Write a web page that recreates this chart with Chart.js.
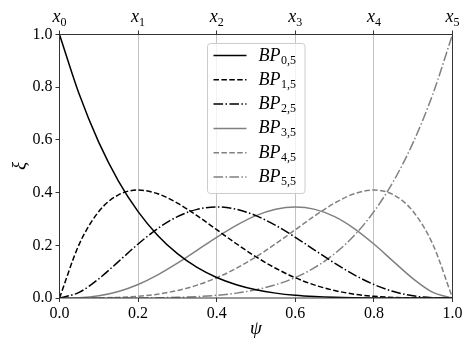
<!DOCTYPE html>
<html>
<head>
<meta charset="utf-8">
<script src="https://cdn.jsdelivr.net/npm/chart.js@4.4.1/dist/chart.umd.min.js"></script>
<style>
html,body{margin:0;padding:0;background:#fff;}
canvas{display:block;}
</style>
</head>
<body>
<canvas id="c" width="474" height="355"></canvas>
<script>
const psi = [0,0.05,0.1,0.15,0.2,0.25,0.3,0.35,0.4,0.45,0.5,0.55,0.6,0.65,0.7,0.75,0.8,0.85,0.9,0.95,1];
const bp05 = [1,0.7738,0.5905,0.4437,0.3277,0.2373,0.1681,0.1160,0.0778,0.0503,0.0313,0.0185,0.0102,0.0053,0.0024,0.0010,0.0003,0.0001,0,0,0];
const bp15 = [0,0.2036,0.3281,0.3915,0.4096,0.3955,0.3602,0.3124,0.2592,0.2059,0.1563,0.1128,0.0768,0.0488,0.0284,0.0146,0.0064,0.0022,0.0005,0,0];
const bp25 = [0,0.0214,0.0729,0.1382,0.2048,0.2637,0.3087,0.3364,0.3456,0.3369,0.3125,0.2757,0.2304,0.1811,0.1323,0.0879,0.0512,0.0244,0.0081,0.0011,0];
const bp35 = [0,0.0011,0.0081,0.0244,0.0512,0.0879,0.1323,0.1811,0.2304,0.2757,0.3125,0.3369,0.3456,0.3364,0.3087,0.2637,0.2048,0.1382,0.0729,0.0214,0];
const bp45 = [0,0,0.0005,0.0022,0.0064,0.0146,0.0284,0.0488,0.0768,0.1128,0.1563,0.2059,0.2592,0.3124,0.3602,0.3955,0.4096,0.3915,0.3281,0.2036,0];
const bp55 = [0,0,0,0.0001,0.0003,0.0010,0.0024,0.0053,0.0102,0.0185,0.0313,0.0503,0.0778,0.1160,0.1681,0.2373,0.3277,0.4437,0.5905,0.7738,1];
const seriesIdx = ['0,5','1,5','2,5','3,5','4,5','5,5'];
const xTicks = [0,0.2,0.4,0.6,0.8,1.0];
const topTickIdx = ['0','1','2','3','4','5'];
const yTicks = [0,0.2,0.4,0.6,0.8,1.0];

const BLACK = '#000000', GRAY = '#808080';
const DASH = [5.5,2.4], DASHDOT = [9.6,2.4,1.5,2.4];
const styles = [
  {c:BLACK, d:[]}, {c:BLACK, d:DASH}, {c:BLACK, d:DASHDOT},
  {c:GRAY, d:[]}, {c:GRAY, d:DASH}, {c:GRAY, d:DASHDOT}
];
const allSeries = [bp05,bp15,bp25,bp35,bp45,bp55];

const datasets = allSeries.map((arr,i)=>({
  label: 'BP' + seriesIdx[i],
  data: psi.map((x,j)=>({x:x, y:arr[j]})),
  borderColor: styles[i].c,
  borderDash: styles[i].d,
  borderWidth: 1.5,
  pointRadius: 0,
  fill: false,
  cubicInterpolationMode: 'monotone'
}));

const SERIF = '"Liberation Serif", "DejaVu Serif", serif';
const AX = '#333333';

const decor = {
  id: 'decor',
  afterDraw(chart) {
    const ctx = chart.ctx;
    const a = chart.chartArea;
    const xs = chart.scales.x;
    ctx.save();
    // frame
    ctx.strokeStyle = AX;
    ctx.lineWidth = 1;
    ctx.setLineDash([]);
    ctx.strokeRect(a.left, a.top, a.right - a.left, a.bottom - a.top);

    // top labels x_i
    ctx.fillStyle = '#000';
    xTicks.forEach((v,i)=>{
      const px = xs.getPixelForValue(v);
      ctx.font = 'italic 18px ' + SERIF;
      const w1 = ctx.measureText('x').width;
      ctx.font = '12px ' + SERIF;
      const w2 = ctx.measureText(topTickIdx[i]).width;
      const x0 = px - (w1 + w2)/2;
      ctx.textAlign = 'left';
      ctx.textBaseline = 'alphabetic';
      ctx.font = 'italic 18px ' + SERIF;
      ctx.fillText('x', x0, 22);
      ctx.font = '12px ' + SERIF;
      ctx.fillText(topTickIdx[i], x0 + w1, 25.5);
    });

    // axis titles
    ctx.font = 'italic 19px ' + SERIF;
    ctx.textAlign = 'center';
    ctx.textBaseline = 'middle';
    ctx.fillText('\u03C8', (a.left + a.right)/2, 329);
    ctx.save();
    ctx.translate(20, 166);
    ctx.rotate(-Math.PI/2);
    ctx.fillText('\u03BE', 0, 0);
    ctx.restore();

    // legend
    const bx = 207.5, by = 43.5, bw = 97.5, bh = 150, r = 3;
    ctx.beginPath();
    ctx.moveTo(bx + r, by);
    ctx.lineTo(bx + bw - r, by);
    ctx.arcTo(bx + bw, by, bx + bw, by + r, r);
    ctx.lineTo(bx + bw, by + bh - r);
    ctx.arcTo(bx + bw, by + bh, bx + bw - r, by + bh, r);
    ctx.lineTo(bx + r, by + bh);
    ctx.arcTo(bx, by + bh, bx, by + bh - r, r);
    ctx.lineTo(bx, by + r);
    ctx.arcTo(bx, by, bx + r, by, r);
    ctx.closePath();
    ctx.fillStyle = 'rgba(255,255,255,0.8)';
    ctx.fill();
    ctx.strokeStyle = '#cccccc';
    ctx.lineWidth = 1;
    ctx.stroke();

    datasets.forEach((ds,i)=>{
      const y = 55.5 + i * 24.3;
      ctx.beginPath();
      ctx.strokeStyle = ds.borderColor;
      ctx.lineWidth = 1.5;
      ctx.setLineDash(ds.borderDash);
      ctx.moveTo(213.5, y);
      ctx.lineTo(246.5, y);
      ctx.stroke();
      ctx.setLineDash([]);
      ctx.fillStyle = '#000';
      ctx.textAlign = 'left';
      ctx.textBaseline = 'alphabetic';
      ctx.font = 'italic 18px ' + SERIF;
      ctx.fillText('BP', 258.5, y + 5);
      const w = ctx.measureText('BP').width;
      ctx.font = '12px ' + SERIF;
      ctx.fillText(seriesIdx[i], 258.5 + w + 0.5, y + 8);
    });
    ctx.restore();
  }
};

new Chart(document.getElementById('c'), {
  type: 'line',
  data: { datasets: datasets },
  options: {
    responsive: false,
    devicePixelRatio: 1,
    animation: false,
    layout: { padding: { left: 0, right: 21.5, top: 0, bottom: 0 } },
    plugins: { legend: { display: false }, tooltip: { enabled: false } },
    scales: {
      x: {
        type: 'linear', position: 'bottom', min: 0, max: 1,
        afterBuildTicks: s => { s.ticks = xTicks.map(v=>({value:v})); },
        afterFit: s => { s.height = 57; },
        ticks: { callback: v => Number(v).toFixed(1), color: '#000', font: { family: SERIF, size: 16 }, padding: 2, maxRotation: 0 },
        grid: {
          color: c => (c.tick && (c.tick.value === 0 || c.tick.value === 1)) ? 'rgba(0,0,0,0)' : '#c4c4c4',
          tickColor: AX, tickLength: 4, lineWidth: 1
        },
        border: { display: false }
      },
      x2: {
        type: 'linear', position: 'top', min: 0, max: 1,
        afterBuildTicks: s => { s.ticks = xTicks.map(v=>({value:v})); },
        afterFit: s => { s.height = 34.5; },
        ticks: { display: false },
        grid: { drawOnChartArea: false, tickColor: AX, tickLength: 4 },
        border: { display: false }
      },
      y: {
        type: 'linear', min: 0, max: 1,
        afterBuildTicks: s => { s.ticks = yTicks.map(v=>({value:v})); },
        afterFit: s => { s.width = 59.5; },
        ticks: { callback: v => Number(v).toFixed(1), color: '#000', font: { family: SERIF, size: 16 }, padding: 3 },
        grid: { drawOnChartArea: false, tickColor: AX, tickLength: 4 },
        border: { display: false }
      }
    }
  },
  plugins: [decor]
});
</script>
</body>
</html>
